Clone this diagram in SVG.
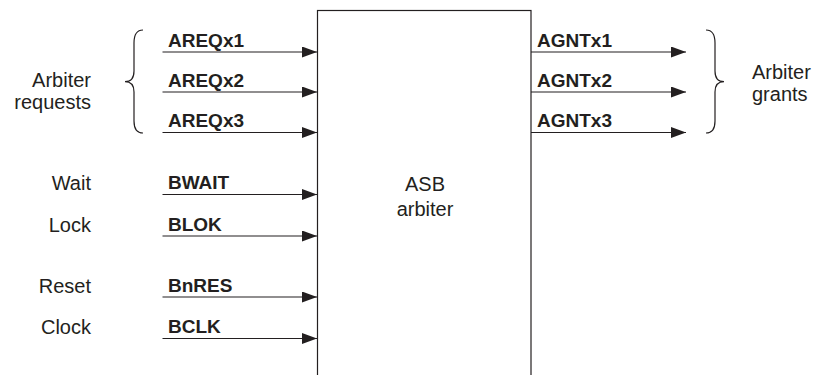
<svg xmlns="http://www.w3.org/2000/svg" width="818" height="375" viewBox="0 0 818 375">
<style>
.t{font-family:"Liberation Sans",Arial,sans-serif;fill:#231f20}
.n{font-size:20px}
.b{font-size:19px;font-weight:bold}
.w{stroke:#231f20;stroke-width:1.2;fill:none}
</style>
<defs>
<marker id="ah" markerUnits="userSpaceOnUse" markerWidth="16" markerHeight="12" refX="15" refY="5.5" orient="auto">
<path d="M0,0 L15,5.5 L0,11 z" fill="#231f20"/>
</marker>
</defs>
<rect width="818" height="375" fill="#fff"/>
<g id="arbiter">
<rect x="317.5" y="10.5" width="213.5" height="380" fill="#fff" stroke="#231f20" stroke-width="1.2"/>
<text class="t n" x="425" y="191" text-anchor="middle">ASB</text>
<text class="t n" x="425" y="216" text-anchor="middle">arbiter</text>
</g>
<g id="connectors">
<line class="w" x1="162.5" y1="52" x2="317" y2="52" marker-end="url(#ah)"/>
<line class="w" x1="162.5" y1="92" x2="317" y2="92" marker-end="url(#ah)"/>
<line class="w" x1="162.5" y1="132.5" x2="317" y2="132.5" marker-end="url(#ah)"/>
<line class="w" x1="162.5" y1="194.5" x2="317" y2="194.5" marker-end="url(#ah)"/>
<line class="w" x1="162.5" y1="236" x2="317" y2="236" marker-end="url(#ah)"/>
<line class="w" x1="162.5" y1="297" x2="317" y2="297" marker-end="url(#ah)"/>
<line class="w" x1="162.5" y1="338.5" x2="317" y2="338.5" marker-end="url(#ah)"/>
<line class="w" x1="531" y1="52" x2="686" y2="52" marker-end="url(#ah)"/>
<line class="w" x1="531" y1="92" x2="686" y2="92" marker-end="url(#ah)"/>
<line class="w" x1="531" y1="132.5" x2="686" y2="132.5" marker-end="url(#ah)"/>
</g>
<g id="signal-labels">
<text class="t b" x="168" y="46.5">AREQx1</text>
<text class="t b" x="168" y="86.5">AREQx2</text>
<text class="t b" x="168" y="127">AREQx3</text>
<text class="t b" x="168" y="189">BWAIT</text>
<text class="t b" x="168" y="230.5">BLOK</text>
<text class="t b" x="168" y="291.5">BnRES</text>
<text class="t b" x="168" y="333">BCLK</text>
<text class="t b" x="537" y="46.5">AGNTx1</text>
<text class="t b" x="537" y="86.5">AGNTx2</text>
<text class="t b" x="537" y="127">AGNTx3</text>
</g>
<g id="requests-group">
<path class="w" d="M143,30 C136,30 134,35 134,43 L134,71 C134,78 131,81.7 125,81.7 C131,81.7 134,85 134,92 L134,121 C134,128 136,133 143,133"/>
<text class="t n" x="91" y="87" text-anchor="end">Arbiter</text>
<text class="t n" x="91" y="109" text-anchor="end">requests</text>
</g>
<g id="grants-group">
<path class="w" d="M706,30 C713,30 715,35 715,43 L715,71 C715,78 718,81.7 724,81.7 C718,81.7 715,85 715,92 L715,121 C715,128 713,133 706,133"/>
<text class="t n" x="752" y="79">Arbiter</text>
<text class="t n" x="752" y="101">grants</text>
</g>
<g id="control-labels">
<text class="t n" x="91" y="190" text-anchor="end">Wait</text>
<text class="t n" x="91" y="231.5" text-anchor="end">Lock</text>
<text class="t n" x="91" y="293" text-anchor="end">Reset</text>
<text class="t n" x="91" y="333.5" text-anchor="end">Clock</text>
</g>
</svg>
